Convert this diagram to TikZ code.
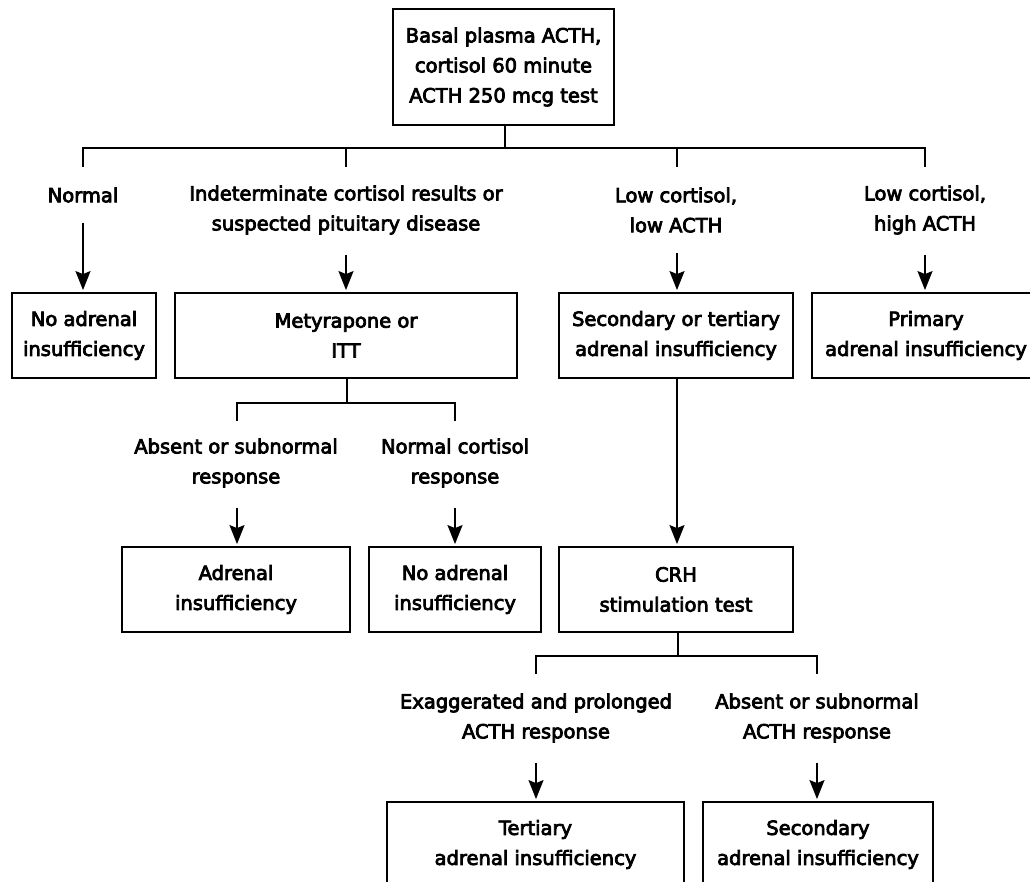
\documentclass[tikz,border=0pt]{standalone}
\usepackage{fontspec}
\setmainfont{DejaVu Sans}[FakeBold=4]
\usetikzlibrary{arrows.meta}
\begin{document}
\begin{tikzpicture}[x=1pt,y=-1pt,
  every node/.style={font=\fontsize{19.5}{30}\selectfont, align=center, inner sep=0pt},
  box/.style={draw, line width=1.8pt, minimum height=85pt},
  lbl/.style={},
  ln/.style={line width=1.8pt},
  tip/.style={-{Stealth[length=19pt,width=15pt,inset=3pt]}},
  arr/.style={ln, tip, shorten <=20pt, shorten >=2pt}
]
\useasboundingbox (0,0) rectangle (1030,882);
\clip (0,0) rectangle (1030,882);
% top
\node[box, minimum width=221pt, minimum height=116pt] (top) at (503.5,67) {Basal plasma ACTH,\\cortisol 60 minute\\ACTH 250 mcg test};
% row 1 labels
\node[lbl] (l1) at (83,195) {Normal};
\node[lbl] (l2) at (346,210) {Indeterminate cortisol results or\\suspected pituitary disease};
\node[lbl] (l3) at (676,210) {Low cortisol,\\low ACTH};
\node[lbl] (l4) at (925,210) {Low cortisol,\\high ACTH};
% row 2 boxes
\node[box, minimum width=144pt] (noai1) at (84,335.5) {No adrenal\\insufficiency};
\node[box, minimum width=342pt] (mety) at (346,335.5) {Metyrapone or\\ITT};
\node[box, minimum width=234pt] (secter) at (676,335.5) {Secondary or tertiary\\adrenal insufficiency};
\node[box, minimum width=228pt] (prim) at (926,335.5) {Primary\\adrenal insufficiency};
% row 3 labels
\node[lbl] (l5) at (236,463) {Absent or subnormal\\response};
\node[lbl] (l6) at (455,463) {Normal cortisol\\response};
% row 3 boxes
\node[box, minimum width=228pt] (ai) at (236,589.5) {Adrenal\\insufficiency};
\node[box, minimum width=172pt] (noai2) at (455,589.5) {No adrenal\\insufficiency};
\node[box, minimum width=234pt] (crh) at (676,589.5) {CRH\\stimulation test};
% row 4 labels
\node[lbl] (l7) at (536,718) {Exaggerated and prolonged\\ACTH response};
\node[lbl] (l8) at (817,718) {Absent or subnormal\\ACTH response};
% row 4 boxes
\node[box, minimum width=297pt] (ter) at (535.5,844.5) {Tertiary\\adrenal insufficiency};
\node[box, minimum width=230pt] (sec) at (818,844.5) {Secondary\\adrenal insufficiency};

% tree 1
\coordinate (h1) at (505,148);
\coordinate (d1) at (83,167);
\coordinate (d2) at (346,167);
\coordinate (d3) at (677,167);
\coordinate (d4) at (925,167);
\draw[ln] (top.south -| h1) -- (h1);
\draw[ln] (d1) |- (h1) -| (d4);
\draw[ln] (d2) -- (d2 |- h1);
\draw[ln] (d3) -- (d3 |- h1);
% arrows row 1
\draw[arr] (l1.south) -- (noai1.north -| l1.south);
\draw[arr] (l2.south) -- (l2.south |- mety.north);
\draw[arr] (l3.south -| d3) -- (d3 |- secter.north);
\draw[arr] (l4.south) -- (l4.south |- prim.north);
% tree 2
\coordinate (h2) at (347,403);
\coordinate (d5) at (237,421);
\coordinate (d6) at (455,421);
\draw[ln] (mety.south -| h2) -- (h2);
\draw[ln] (d5) |- (h2) -| (d6);
\draw[arr] (l5.south -| d5) -- (d5 |- ai.north);
\draw[arr] (l6.south) -- (l6.south |- noai2.north);
% long arrow
\draw[ln, tip, shorten >=2pt] (secter.south -| d3) -- (crh.north -| d3);
% tree 3
\coordinate (h3) at (678,656);
\coordinate (d7) at (536,674);
\coordinate (d8) at (817,674);
\draw[ln] (crh.south -| h3) -- (h3);
\draw[ln] (d7) |- (h3) -| (d8);
\draw[arr] (l7.south) -- (l7.south |- ter.north);
\draw[arr] (l8.south) -- (l8.south |- sec.north);
\end{tikzpicture}
\end{document}
